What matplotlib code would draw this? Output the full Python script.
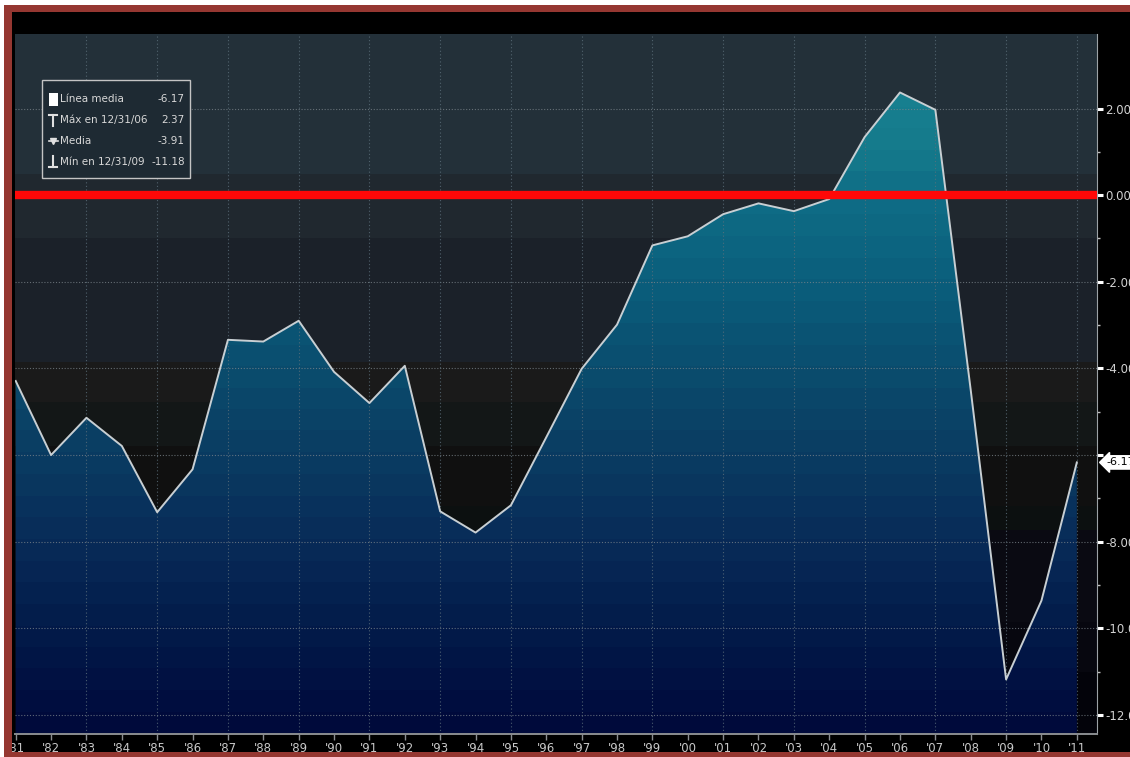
import numpy as np
import matplotlib.pyplot as plt
from matplotlib import font_manager
from matplotlib.colors import LinearSegmentedColormap
from matplotlib.patches import Rectangle
from matplotlib.lines import Line2D

# fuente estrecha si existe
nombres = {f.name for f in font_manager.fontManager.ttflist}
estrecha = 'Liberation Sans Narrow' in nombres
plt.rcParams['font.family'] = ['Liberation Sans Narrow' if estrecha else 'DejaVu Sans']
fs = 10 if estrecha else 8.5

# saldo anual, 1981-2011
years = np.arange(1981, 2012)
saldo = [-4.29, -6.00, -5.14, -5.79, -7.32, -6.33, -3.34, -3.38, -2.90, -4.08,
         -4.80, -3.94, -7.30, -7.79, -7.16, -5.59, -4.01, -2.99, -1.16, -0.95,
         -0.44, -0.19, -0.37, -0.09, 1.34, 2.37, 1.97, -4.50, -11.18, -9.36, -6.17]

ley_txt = ["Línea media", "Máx en 12/31/06", "Media", "Mín en 12/31/09"]
ley_val = [-6.17, 2.37, -3.91, -11.18]
ultimo = ley_val[0]

W, H = 1130, 757
fig = plt.figure(figsize=(W / 100, H / 100), dpi=100, facecolor='black')


def px(x0, y0, x1, y1):
    # caja en pixeles (origen arriba-izquierda) -> coords de figura
    return [x0 / W, 1 - y1 / H, (x1 - x0) / W, (y1 - y0) / H]


ax = fig.add_axes(px(15, 34, 1097, 734))
ymin, ymax = -12.44, 3.72
xmin, xmax = 1980.98, 2011.57
ax.set_xlim(xmin, xmax)
ax.set_ylim(ymin, ymax)
ax.set_facecolor('black')

# fondo en franjas horizontales
fondo = [(3.72, 0.48, '#233039'), (0.48, -1.0, '#20282f'), (-1.0, -3.85, '#1b2129'),
         (-3.85, -4.78, '#1a1a1a'), (-4.78, -5.79, '#131717'), (-5.79, -7.18, '#101010'),
         (-7.18, -7.73, '#0c1010'), (-7.73, -9.85, '#0a0a12'), (-9.85, -11.0, '#07070f'),
         (-11.0, -12.44, '#03030a')]
for top, bot, c in fondo:
    ax.axhspan(bot, top, color=c, lw=0, zorder=0)

# relleno degradado bajo la curva, por escalones
anclas = [(-12.44, '#000a3a'), (-12, '#000c3e'), (-10, '#031b4a'), (-8, '#082b58'),
          (-6, '#0a3c62'), (-4, '#0a4d6e'), (-2, '#0b5e7c'), (0, '#0f6d86'),
          (1.0, '#157a8b'), (3.72, '#1a8595')]
cmap = LinearSegmentedColormap.from_list(
    'relleno', [((v - ymin) / (ymax - ymin), c) for v, c in anclas])
paso = 0.5
yy = np.linspace(ymin, ymax, 800)
yq = ymin + np.floor((yy - ymin) / paso) * paso + paso / 2
img = yq.reshape(-1, 1)
im = ax.imshow(img, extent=[xmin, xmax, ymin, ymax], origin='lower', aspect='auto',
               cmap=cmap, vmin=ymin, vmax=ymax, interpolation='nearest', zorder=1)
poly = ax.fill_between(years, saldo, ymin - 1, color='none', lw=0)
im.set_clip_path(poly.get_paths()[0], transform=ax.transData)

# rejilla punteada
for v in range(-12, 3, 2):
    ax.axhline(v, color='#7d868c', lw=0.8, ls=(0, (1, 1.6)), alpha=0.75, zorder=2)
for yr in range(1983, 2012, 2):
    ax.axvline(yr, color='#5d707c', lw=0.8, ls=(0, (1, 2.2)), alpha=0.8, zorder=2)

ax.plot(years, saldo, color='#c8cfd3', lw=1.4, zorder=4)
ax.axhline(0, color='#ff0808', lw=6, zorder=5)

for s in ['left', 'top']:
    ax.spines[s].set_visible(False)
ax.spines['right'].set_color('#9ca2a6')
ax.spines['bottom'].set_color('#8a8d90')
ax.spines['bottom'].set_linewidth(1.4)

# eje y a la derecha
ax.yaxis.tick_right()
yt = list(range(-12, 3, 2))
ax.set_yticks(yt)
ax.set_yticklabels(['' if v == -6 else '%.2f' % v for v in yt])
ax.set_yticks(range(-11, 3, 2), minor=True)
ax.tick_params(axis='y', which='major', direction='out', length=4, width=2.2,
               color='white', labelcolor='#d2d2d2', labelsize=fs, pad=2)
ax.tick_params(axis='y', which='minor', direction='out', length=2, width=1,
               color='#c0c0c0')

ax.set_xticks(years)
ax.set_xticklabels(["'%02d" % (y % 100) for y in years])
ax.tick_params(axis='x', direction='out', length=4, width=1, color='#8a8d90',
               labelcolor='#c8c8c8', labelsize=fs, pad=2)

# etiqueta del ultimo valor
ax.annotate('%.2f' % ultimo, xy=(1, ultimo), xycoords=('axes fraction', 'data'),
            xytext=(7, 0), textcoords='offset points', va='center', ha='left',
            fontsize=fs - 0.5, color='black',
            bbox=dict(boxstyle='larrow,pad=0.15', fc='white', ec='white'))

# leyenda
fig.add_artist(Rectangle(px(42, 80, 190, 178)[:2], 148 / W, 98 / H,
                         transform=fig.transFigure, fc='#1e2a33', ec='#c4c4c4',
                         lw=1, zorder=5))
lfs = fs - 0.5 if estrecha else 7.5
for i, (t, v) in enumerate(zip(ley_txt, ley_val)):
    yf = 1 - (99 + i * 21) / H
    fig.text(60 / W, yf, t, color='#d8d8d8', fontsize=lfs, va='center', ha='left', zorder=6)
    fig.text(185 / W, yf, '%.2f' % v, color='#d8d8d8', fontsize=lfs, va='center',
             ha='right', zorder=6)
y0 = 1 - 99 / H
fig.add_artist(Rectangle((49 / W, y0 - 7 / H), 9 / W, 13 / H, transform=fig.transFigure,
                         fc='white', ec='none', zorder=6))
y1 = 1 - 120 / H
fig.add_artist(Line2D([49 / W, 57 / W], [y1 + 5 / H, y1 + 5 / H], color='#e0e0e0', lw=1.5,
                      transform=fig.transFigure, zorder=6))
fig.add_artist(Line2D([53 / W, 53 / W], [y1 + 5 / H, y1 - 6 / H], color='#e0e0e0', lw=1.5,
                      transform=fig.transFigure, zorder=6))
y2 = 1 - 141 / H
fig.add_artist(Line2D([49 / W, 58 / W], [y2, y2], color='#e0e0e0', lw=1.2,
                      transform=fig.transFigure, zorder=6))
fig.add_artist(Line2D([53 / W], [y2], color='#e0e0e0', marker='v', ms=5, lw=0,
                      transform=fig.transFigure, zorder=6))
y3 = 1 - 162 / H
fig.add_artist(Line2D([53 / W, 53 / W], [y3 + 6 / H, y3 - 5 / H], color='#e0e0e0', lw=1.5,
                      transform=fig.transFigure, zorder=6))
fig.add_artist(Line2D([49 / W, 57 / W], [y3 - 5 / H, y3 - 5 / H], color='#e0e0e0', lw=1.5,
                      transform=fig.transFigure, zorder=6))

# marco
for (x0, y0_, x1, y1_, c) in [(0, 0, W, 5, 'white'), (0, 0, 4, H, 'white'),
                              (4, 5, W, 12, '#953731'), (4, 5, 12, H, '#953731'),
                              (4, 752, W, H, '#953731')]:
    b = px(x0, y0_, x1, y1_)
    fig.add_artist(Rectangle(b[:2], b[2], b[3], transform=fig.transFigure,
                             fc=c, ec='none', zorder=10))

fig.savefig('out.png', dpi=100, facecolor='black')
